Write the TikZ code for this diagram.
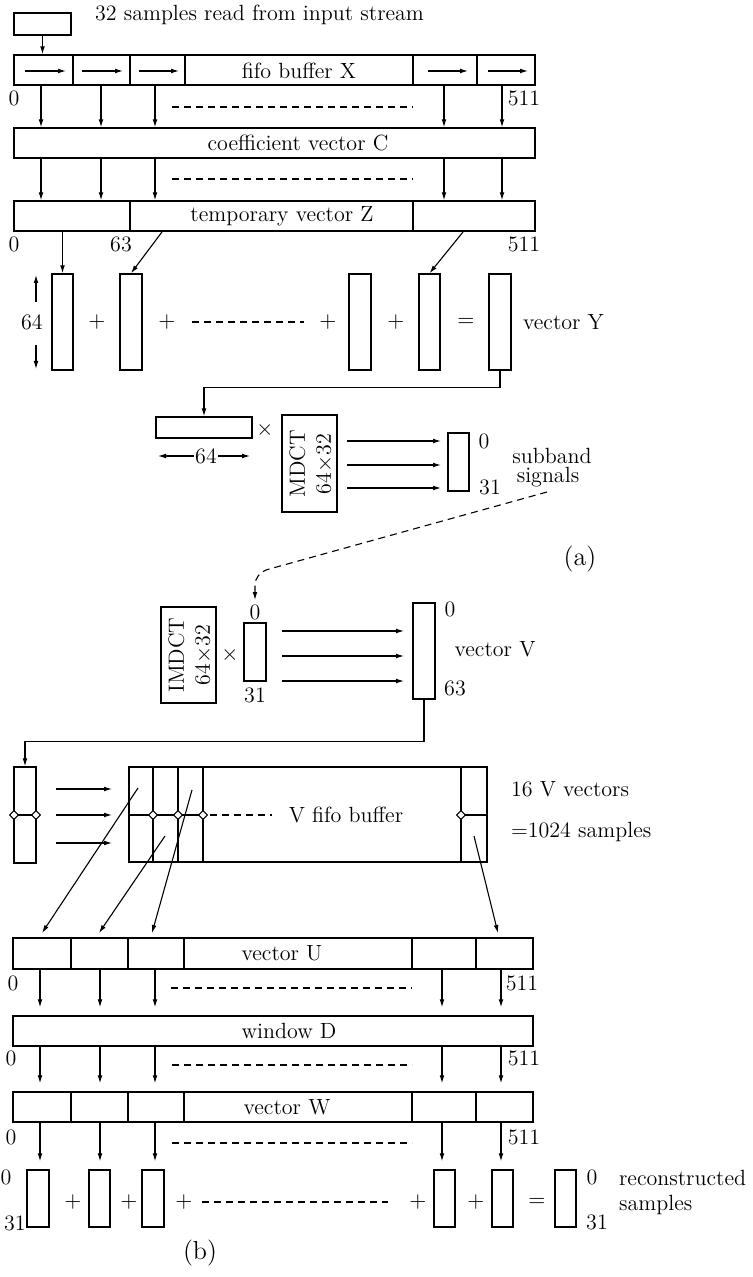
\documentclass[tikz,border=0pt]{standalone}
\usetikzlibrary{arrows.meta,fit,shapes.geometric}
\begin{document}
\begin{tikzpicture}[x=0.5pt,y=-0.5pt,
  every node/.style={font=\fontsize{11}{13}\selectfont},
  bx/.style={draw,line width=0.7pt,inner sep=0pt},
  ar/.style={-{Latex[length=4pt,width=2.4pt]},line width=0.55pt},
  dl/.style={dash pattern=on 3.5pt off 2.5pt,line width=0.55pt},
  ln/.style={line width=0.7pt},
  dm/.style={diamond,draw,fill=white,inner sep=0pt,minimum size=4.6pt,line width=0.55pt},
  gp/.style={shorten >=4pt},
  partlbl/.style={font=\fontsize{13}{15}\selectfont},
]
\useasboundingbox (0,0) rectangle (753,1277);
% ---------------- (a) ----------------
\node[bx,fit={(14,13) (71,35)}] (in) {};
\node[anchor=west] (intxt) at (88,15) {32 samples read from input stream};
\node[bx,fit={(14,55) (535,85)}] (X) {};
\foreach \x in {73,130,185,413,477} \draw[ln] (\x,0 |- X.north) -- (\x,0 |- X.south);
\foreach \a/\b in {25/66,82/123,139/179,428/468,488/528} \draw[ar] (\a,71) -- (\b,71);
\node (Xl) at (299,71) {fifo buffer X};
\draw[ar] (in.south) -- (in.south |- X.north);
\node (x0) at (14,98) {0};
\node (x511) at (524,98) {511};
\node[bx,fit={(14,128) (535,158)}] (C) {};
\node (Cl) at (298,143) {coefficient vector C};
\foreach \x in {41,101,155,444,502} \draw[ar] (\x,0 |- X.south) -- (\x,0 |- C.north);
\draw[dl] (172,107) -- (413,107);
\node[bx,fit={(14,201) (535,231)}] (Z) {};
\foreach \x in {130,413} \draw[ln] (\x,0 |- Z.north) -- (\x,0 |- Z.south);
\node (Zl) at (282,216) {temporary vector Z};
\foreach \x in {41,101,155,444,502} \draw[ar] (\x,0 |- C.south) -- (\x,0 |- Z.north);
\draw[dl] (172,179) -- (413,179);
\node (z0) at (14,244) {0};
\node (z63) at (121,244) {63};
\node (z511) at (524,244) {511};
% vector sums
\node[bx,fit={(52,274) (73,370)}] (V1) {};
\node[bx,fit={(120,274) (142,370)}] (V2) {};
\node[bx,fit={(349,274) (371,370)}] (V3) {};
\node[bx,fit={(419,274) (440,370)}] (V4) {};
\node[bx,fit={(489,274) (511,370)}] (V5) {};
\node (p1) at (97,322) {$+$};
\node (p2) at (167,322) {$+$};
\node (p3) at (328,322) {$+$};
\node (p4) at (396,322) {$+$};
\node (eq) at (466,322) {$=$};
\draw[dl] (192,322) -- (304,322);
\node (vy) [anchor=west] at (516,322) {vector Y};
\draw[ar] (V1.north |- Z.south) -- (V1.north);
\coordinate (za) at (162,232);
\coordinate (zb) at (463,232);
\draw[ar] (za) -- (V2.north);
\draw[ar] (zb) -- (V4.north);
\node (n64) at (32,322) {64};
\coordinate (u1) at (36,302);
\coordinate (u2) at (36,345);
\draw[ar] (u1) -- (36,275);
\draw[ar] (u2) -- (36,369);
% MDCT
\node[bx,fit={(156,417) (252,438)}] (R) {};
\draw[ar] (V5.south) -- ++(0,17) -| (R.north);
\node (tm1) at (265,430) {$\times$};
\node[inner sep=0.5pt] (r64) at (206,456) {64};
\draw[ar] (r64.west) -- (158,456);
\draw[ar] (r64.east) -- (250,456);
\node[bx,fit={(282,415) (337,512)}] (M) {};
\node[rotate=90,align=center] (Ml) at (311,464) {MDCT\\64$\times$32};
\node[bx,fit={(448,433) (469,491)}] (S) {};
\foreach \y in {441,465,488} \draw[ar] (347,\y) -- (441,\y);
\node (s0) at (484,441) {0};
\node (s31) at (490,487) {31};
\node (sub) at (552,456) {subband};
\node (sig) at (548,477) {signals};
\coordinate (ds) at (547,492);
\coordinate (de) at (255,600);
\draw[dl,ar,rounded corners=6pt] (ds) -- (255,573) -- (de);
\node[partlbl] (la) at (580,559) {(a)};
% ---------------- (b) ----------------
\node[bx,fit={(161,607) (216,703)}] (IM) {};
\node[rotate=90,align=center] (IMl) at (190,655) {IMDCT\\64$\times$32};
\node (tm2) at (230,655) {$\times$};
\node[bx,fit={(244,623) (266,681)}] (IV) {};
\node (iv0) at (255,612) {0};
\node (iv31) at (255,695) {31};
\node[bx,fit={(413,603) (435,699)}] (VV) {};
\foreach \y in {631,656,681} \draw[ar] (282,\y) -- (404,\y);
\node (vv0) at (450,609) {0};
\node (vv63) at (455,688) {63};
\node (vvl) at (495,649) {vector V};
\node[bx,fit={(14,767) (36,863)}] (LV) {};
\draw[ar] (VV.south) -- ++(0,42) -| (LV.north);
\draw[ln] (14,815) -- (36,815);
\node[dm] (ld1) at (14,815) {};
\node[dm] (ld2) at (36,815) {};
\foreach \y in {789,815,843} \draw[ar] (56,\y) -- (112,\y);
\node[bx,fit={(129,767) (487,862)}] (VF) {};
\foreach \x in {153,178,203,461} \draw[ln] (\x,0 |- VF.north) -- (\x,0 |- VF.south);
\draw[ln] (129,815) -- (203,815);
\draw[ln] (461,815) -- (487,815);
\node[dm] (fd1) at (153,815) {};
\node[dm] (fd2) at (178,815) {};
\node[dm] (fd3) at (203,815) {};
\node[dm] (fd4) at (461,815) {};
\draw[dl] (210,815) -- (272,815);
\node (vfl) at (346,815) {V fifo buffer};
\node[anchor=west] (t16) at (504,789) {16 V vectors};
\node[anchor=west] (t1024) at (504,832) {=1024 samples};
% vector U
\node[bx,fit={(13,938) (533,969)}] (U) {};
\foreach \x in {71,128,184,412,476} \draw[ln] (\x,0 |- U.north) -- (\x,0 |- U.south);
\node (Ul) at (282,953) {vector U};
\coordinate (f1) at (138,788);
\coordinate (f2) at (165,836);
\coordinate (f3) at (192,790);
\coordinate (f4) at (474,836);
\draw[ar] (f1) -- (42,933);
\draw[ar] (f2) -- (99,933);
\draw[ar] (f3) -- (152,933);
\draw[ar] (f4) -- (498,933);
\node (u0) at (13,983) {0};
\node (u511) at (522,983) {511};
% window D
\node[bx,fit={(13,1016) (533,1046)}] (D) {};
\node (Dl) at (289,1031) {window D};
\foreach \x in {40,100,155,442,501} \draw[ar,gp] (\x,0 |- U.south) -- (\x,0 |- D.north);
\draw[dl] (171,988) -- (412,988);
\node (d0) at (11,1058) {0};
\node (d511) at (524,1058) {511};
% vector W
\node[bx,fit={(13,1092) (533,1122)}] (W) {};
\foreach \x in {71,128,184,412,476} \draw[ln] (\x,0 |- W.north) -- (\x,0 |- W.south);
\node (Wl) at (287,1107) {vector W};
\foreach \x in {40,100,155,442,501} \draw[ar,gp] (\x,0 |- D.south) -- (\x,0 |- W.north);
\draw[dl] (172,1065) -- (412,1065);
\node (w0) at (11,1137) {0};
\node (w511) at (524,1137) {511};
% bottom sums
\node[bx,fit={(27,1170) (49,1227)}] (B1) {};
\node[bx,fit={(89,1170) (110,1227)}] (B2) {};
\node[bx,fit={(142,1170) (164,1227)}] (B3) {};
\node[bx,fit={(434,1170) (455,1227)}] (B4) {};
\node[bx,fit={(492,1170) (513,1227)}] (B5) {};
\node[bx,fit={(555,1170) (576,1227)}] (B6) {};
\foreach \x/\n in {40/B1,100/B2,155/B3,442/B4,501/B5} \draw[ar,gp] (\x,0 |- W.south) -- (\x,0 |- \n.north);
\draw[dl] (172,1143) -- (412,1143);
\node (q1) at (73,1202) {$+$};
\node (q2) at (129,1202) {$+$};
\node (q3) at (184,1202) {$+$};
\node (q4) at (418,1202) {$+$};
\node (q5) at (476,1202) {$+$};
\node (q6) at (537,1202) {$=$};
\draw[dl] (202,1202) -- (388,1202);
\node (b0) at (6,1177) {0};
\node (b31) at (15,1223) {31};
\node (r0) at (592,1177) {0};
\node (r31) at (597,1222) {31};
\node[anchor=west] (rec) at (612,1178) {reconstructed};
\node[anchor=west] (rsm) at (612,1205) {samples};
\node[partlbl] (lb) at (200,1253) {(b)};
\end{tikzpicture}
\end{document}
